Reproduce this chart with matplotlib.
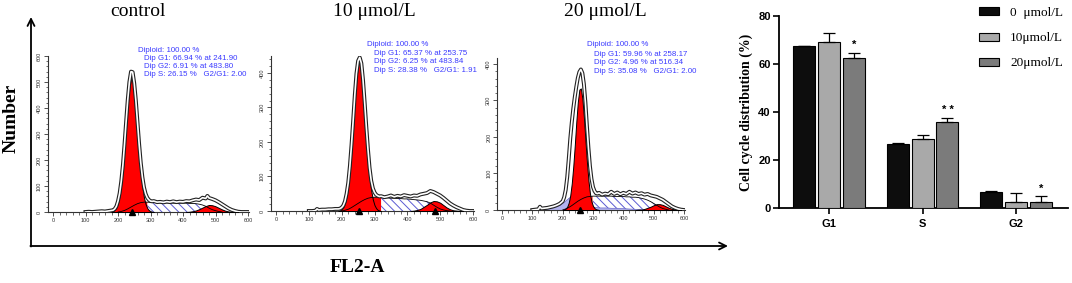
import numpy as np
import matplotlib.pyplot as plt
from matplotlib.ticker import MultipleLocator
from matplotlib.patches import Patch

plt.rcParams['hatch.linewidth'] = 0.7
plt.rcParams['font.family'] = ['Liberation Sans', 'DejaVu Sans']

W, H = 1072, 283

# ---------------- flow cytometry histograms ----------------
# control
ctrl_x = [100, 110, 120, 130, 140, 150, 160, 170,
          180, 185, 190, 195, 200, 205, 210, 215, 220, 225, 230, 235, 240, 245, 250, 255, 260, 265, 270,
          275, 280, 285, 290, 295, 300, 305, 310,
          320, 330, 340, 350, 360, 370, 380, 390, 400, 410, 420, 430, 440, 450, 460, 470, 475,
          480, 490, 500, 510, 520, 530, 540, 550, 560, 570, 580, 590, 600]
ctrl_n = [0, 1, 0, 1, 2, 3, 2, 4,
          6, 7, 12, 22, 42, 72, 118, 180, 260, 348, 432, 500, 540, 538, 495, 428, 345, 262, 190,
          135, 95, 70, 55, 47, 42, 41, 42,
          38, 39, 37, 40, 38, 41, 38, 40, 39, 42, 41, 45, 48, 46, 55, 52, 62,
          54, 50, 45, 38, 30, 22, 14, 8, 4, 1, 0, 0, 0]
ctrl_g1_x = [180, 185, 190, 195, 200, 205, 210, 215, 220, 225, 230, 235, 240, 245, 250, 255, 260,
             265, 270, 275, 280, 285, 290, 295, 300, 305, 310]
ctrl_g1 = [1, 3, 8, 17, 34, 62, 106, 167, 244, 330, 412, 477, 512, 508, 466, 397, 312,
           228, 154, 96, 55, 30, 15, 7, 3, 1, 0]
ctrl_s_x = [200, 210, 220, 230, 240, 250, 260, 270, 280, 290, 300, 310, 320, 330, 340, 350, 360,
            370, 380, 390, 400, 410, 420, 430, 440, 450, 460, 470, 480, 490, 500, 510, 520]
ctrl_s = [0, 2, 6, 12, 19, 26, 32, 36, 38, 38, 37, 37, 36, 36, 35, 35, 35,
          34, 34, 34, 34, 34, 33, 33, 32, 30, 27, 22, 15, 9, 5, 2, 0]
ctrl_g2_x = [410, 420, 430, 440, 450, 460, 470, 480, 490, 500, 510, 520, 530, 540, 550, 560, 570]
ctrl_g2 = [0, 1, 3, 6, 11, 17, 23, 27, 26, 22, 16, 10, 5, 2, 1, 0, 0]
ctrl_marks = [241.90]
ctrl_info = ['Diploid: 100.00 %', 'Dip G1: 66.94 % at 241.90',
             'Dip G2: 6.91 % at 483.80', 'Dip S: 26.15 %   G2/G1: 2.00']

# 10 umol/L
d10_x = [100, 110, 120, 125, 130, 140, 150, 160, 170, 180,
         190, 195, 200, 205, 210, 215, 220, 225, 230, 235, 240, 245, 250, 255, 260, 265, 270, 275,
         280, 285, 290, 295, 300, 305, 310, 315, 320,
         330, 340, 350, 360, 370, 380, 390, 400, 410, 420, 430, 440, 450, 460, 470, 480, 490, 500,
         510, 520, 530, 540, 550, 560, 570, 580, 590, 600]
d10_n = [0, 0, 1, 6, 3, 4, 4, 5, 5, 6,
         6, 7, 10, 16, 28, 50, 82, 130, 192, 262, 336, 398, 435, 445, 428, 380, 315, 245,
         180, 125, 88, 66, 54, 47, 44, 42, 43,
         40, 42, 45, 41, 44, 42, 46, 44, 42, 45, 44, 48, 50, 52, 58, 55, 50, 45,
         38, 30, 22, 16, 11, 7, 3, 1, 0, 0]
d10_g1_x = [190, 195, 200, 205, 210, 215, 220, 225, 230, 235, 240, 245, 250, 255, 260, 265, 270,
            275, 280, 285, 290, 295, 300, 305, 310, 315, 320]
d10_g1 = [1, 2, 5, 11, 22, 42, 73, 119, 179, 249, 322, 384, 424, 434, 411, 361, 293,
          220, 153, 99, 59, 33, 17, 8, 3, 1, 0]
d10_s_x = [200, 210, 220, 230, 240, 250, 260, 270, 280, 290, 300, 310, 320, 330, 340, 350, 360,
           370, 380, 390, 400, 410, 420, 430, 440, 450, 460, 470, 480, 490, 500, 510, 520, 530]
d10_s = [0, 2, 5, 10, 16, 22, 28, 33, 37, 39, 40, 40, 39, 38, 38, 37, 37,
         36, 36, 35, 35, 34, 33, 32, 31, 29, 27, 23, 17, 11, 6, 3, 1, 0]
d10_g2_x = [410, 420, 430, 440, 450, 460, 470, 480, 490, 500, 510, 520, 530, 540, 550, 560, 570]
d10_g2 = [0, 1, 3, 6, 12, 18, 25, 29, 28, 24, 17, 10, 5, 2, 1, 0, 0]
d10_marks = [253.75, 483.84]
d10_info = ['Diploid: 100.00 %', 'Dip G1: 65.37 % at 253.75',
            'Dip G2: 6.25 % at 483.84', 'Dip S: 28.38 %   G2/G1: 1.91']

# 20 umol/L
d20_x = [100, 110, 120, 125, 130, 140, 150, 160, 170, 180, 190,
         200, 205, 210, 215, 220, 225, 230, 235, 240, 245, 250, 255, 260, 265, 270, 275, 280, 285,
         290, 295, 300, 305, 310, 315, 320,
         330, 340, 350, 360, 370, 380, 390, 400, 410, 420, 430, 440, 450, 460, 470, 480, 490, 500,
         510, 520, 530, 540, 550, 560, 570, 580, 590, 600]
d20_n = [0, 1, 2, 9, 4, 5, 6, 8, 10, 13, 17,
         24, 35, 55, 90, 140, 195, 240, 278, 310, 338, 362, 378, 385, 375, 345, 295, 230, 170,
         120, 85, 63, 52, 46, 45, 47,
         42, 45, 43, 50, 44, 48, 43, 47, 44, 50, 45, 48, 44, 46, 42, 44, 40, 38,
         36, 32, 28, 22, 16, 10, 6, 3, 1, 0]
d20_g1_x = [200, 205, 210, 215, 220, 225, 230, 235, 240, 245, 250, 255, 260, 265, 270, 275, 280,
            285, 290, 295, 300, 305, 310, 315, 320]
d20_g1 = [0, 1, 4, 9, 20, 40, 73, 120, 178, 242, 296, 330, 333, 305, 254, 191, 131,
          81, 45, 23, 11, 5, 2, 1, 0]
d20_s_x = [200, 210, 220, 230, 240, 250, 260, 270, 280, 290, 300, 310, 320, 330, 340, 350, 360,
           370, 380, 390, 400, 410, 420, 430, 440, 450, 460, 470, 480, 490, 500, 510, 520, 530, 540, 550]
d20_s = [0, 3, 7, 12, 18, 24, 29, 33, 36, 37, 38, 38, 38, 38, 38, 38, 38,
         37, 37, 37, 37, 36, 36, 35, 35, 34, 32, 30, 27, 23, 18, 13, 8, 4, 2, 0]
d20_g2_x = [440, 450, 460, 470, 480, 490, 500, 510, 520, 530, 540, 550, 560, 570, 580, 590]
d20_g2 = [0, 1, 1, 3, 6, 9, 13, 16, 16, 14, 10, 6, 3, 2, 1, 0]
d20_debris_x = [115, 120, 125, 130, 140, 150, 160, 170, 180, 190, 200, 210, 220, 230, 240, 250, 260,
                270, 280, 290, 300, 310, 320, 340, 360, 380, 400, 420, 440, 460, 480]
d20_debris = [0, 3, 9, 4, 4, 5, 6, 8, 11, 15, 20, 27, 34, 39, 40, 38, 33,
              26, 18, 12, 9, 8, 7, 7, 6, 6, 5, 4, 3, 2, 0]
d20_marks = [258.17]
d20_info = ['Diploid: 100.00 %', 'Dip G1: 59.96 % at 258.17',
            'Dip G2: 4.96 % at 516.34', 'Dip S: 35.08 %   G2/G1: 2.00']

panel_titles = ['control', '10 μmol/L', '20 μmol/L']

# ---------------- bar chart ----------------
phases = ['G1', 'S', 'G2']
dose_labels = ['0  μmol/L', '10μmol/L', '20μmol/L']
mean_0 = [67.3, 26.7, 6.7]
mean_10 = [69.2, 28.9, 2.6]
mean_20 = [62.5, 35.7, 2.4]
sd_0 = [0.3, 0.3, 0.5]
sd_10 = [3.7, 1.4, 3.5]
sd_20 = [2.1, 1.8, 2.5]
signif_20 = ['*', '* *', '*']

RED = '#ff0000'
BLUE_TXT = '#3a3aff'


def px_box(x0, x1, y_bottom, y_top):
    # pixel box -> figure fraction [left, bottom, width, height]
    return [x0 / W, 1 - y_bottom / H, (x1 - x0) / W, (y_bottom - y_top) / H]


def ftext(x, y, s, **kw):
    # text placed in figure pixels (origin top-left)
    return fig.text(x / W, 1 - y / H, s, **kw)


def draw_hist(ax, x, n, g1x, g1, sx, s, s_red_end, g2x, g2, marks, ytop,
              debris_x=None, debris=None, hump_alpha=1.0):
    sx = np.array(sx)
    s = np.array(s)
    ax.patch.set_alpha(0)
    ax.fill_between(sx, 0, s, where=sx >= s_red_end, facecolor='white',
                    edgecolor='#5a5ad2', hatch='\\\\\\\\', linewidth=0, zorder=1)
    if debris_x is not None:
        ax.fill_between(debris_x, 0, debris, facecolor='#b3b3ee', edgecolor='#6a6ac8',
                        linewidth=0.5, zorder=2)
    ax.fill_between(sx, 0, s, where=sx <= s_red_end, facecolor=RED, alpha=hump_alpha,
                    linewidth=0, zorder=3)
    ax.fill_between(g1x, 0, g1, facecolor=RED, edgecolor='black', linewidth=0.7, zorder=4)
    ax.fill_between(g2x, 0, g2, facecolor=RED, edgecolor='black', linewidth=0.7, zorder=4)
    ax.plot(sx, s, color='black', lw=0.6, zorder=5)
    # data histogram drawn as a hollow line
    ax.plot(x, n, color='#222222', lw=2.8, zorder=6, solid_joinstyle='round')
    ax.plot(x, n, color='white', lw=1.2, zorder=7, solid_joinstyle='round')
    for m in marks:
        ax.plot(m, 0, marker='^', color='black', ms=4.5, clip_on=False, zorder=8)

    ax.set_xlim(-15, 602)
    ax.set_ylim(0, ytop)
    ax.xaxis.set_major_locator(MultipleLocator(100))
    ax.xaxis.set_minor_locator(MultipleLocator(20))
    ax.yaxis.set_major_locator(MultipleLocator(100))
    ax.yaxis.set_minor_locator(MultipleLocator(20))
    ax.tick_params(which='major', length=3, width=0.6, labelsize=4, pad=1.5,
                   colors='#333333')
    ax.tick_params(which='minor', length=1.8, width=0.5, colors='#333333')
    for lbl in ax.get_yticklabels():
        lbl.set_rotation(90)
        lbl.set_va('center')
    for sp in ['top', 'right']:
        ax.spines[sp].set_visible(False)
    for sp in ['left', 'bottom']:
        ax.spines[sp].set_linewidth(0.8)
        ax.spines[sp].set_color('#333333')


fig = plt.figure(figsize=(W / 100, H / 100), dpi=100)

# background axes in pixel units, for the outer frame with arrows
bg = fig.add_axes([0, 0, 1, 1], zorder=-1)
bg.set_xlim(0, W)
bg.set_ylim(H, 0)
bg.axis('off')
bg.annotate('', xy=(31, 17), xytext=(31, 246.5),
            arrowprops=dict(arrowstyle='->,head_length=0.5,head_width=0.25', lw=1.3, color='black',
                            shrinkA=0, shrinkB=0))
bg.annotate('', xy=(728, 246), xytext=(30.4, 246),
            arrowprops=dict(arrowstyle='->,head_length=0.5,head_width=0.25', lw=1.3, color='black',
                            shrinkA=0, shrinkB=0))
ftext(11, 118, 'Number', rotation=90, ha='center', va='center', fontsize=14,
      fontweight='bold', family='Liberation Serif')
ftext(357, 268, 'FL2-A', ha='center', va='center', fontsize=14,
      fontweight='bold', family='Liberation Serif')

# histogram panels: pixel x of channel 0 and 600, pixel y of count 0 and axis top
panels = [
    dict(px=(53, 248), py=(212, 56), ytop=600,
         data=(ctrl_x, ctrl_n, ctrl_g1_x, ctrl_g1, ctrl_s_x, ctrl_s, 290, ctrl_g2_x, ctrl_g2, ctrl_marks),
         info=ctrl_info, info_pos=(138, 144, [50.7, 58.3, 66.0, 74.3]), title_x=138),
    dict(px=(276, 473), py=(211, 55.7), ytop=450,
         data=(d10_x, d10_n, d10_g1_x, d10_g1, d10_s_x, d10_s, 320, d10_g2_x, d10_g2, d10_marks),
         info=d10_info, info_pos=(367, 374, [45, 53.3, 61.7, 70]), title_x=374),
    dict(px=(502, 684), py=(210, 58.5), ytop=415,
         data=(d20_x, d20_n, d20_g1_x, d20_g1, d20_s_x, d20_s, 300, d20_g2_x, d20_g2, d20_marks),
         info=d20_info, info_pos=(587, 594, [45, 54, 62.7, 71.7]), title_x=605),
]

for i, p in enumerate(panels):
    a, b = p['px']
    sxp = (b - a) / 600
    x0 = a - 15 * sxp
    x1 = b + 2 * sxp
    ax = fig.add_axes(px_box(x0, x1, p['py'][0], p['py'][1]))
    if i == 2:
        draw_hist(ax, *p['data'], p['ytop'], debris_x=d20_debris_x, debris=d20_debris, hump_alpha=0.5)
    else:
        draw_hist(ax, *p['data'], p['ytop'])
    xa, xb, ys = p['info_pos']
    for j, (line, yy) in enumerate(zip(p['info'], ys)):
        ftext(xa if j == 0 else xb, yy, line, color=BLUE_TXT, fontsize=5.7,
              ha='left', va='center', family='Liberation Sans', zorder=10)
    ftext(p['title_x'], 11, panel_titles[i], ha='center', va='center', fontsize=14,
          family='Liberation Serif')

# bar chart
bx = fig.add_axes(px_box(779, 1068, 208, 16))
pos = np.arange(len(phases))
bw = 0.235
step = 0.267
bar_colors = ['#0d0d0d', '#a9a9a9', '#7b7b7b']
means = [mean_0, mean_10, mean_20]
sds = [sd_0, sd_10, sd_20]
handles = []
for k in range(3):
    xs = pos + (k - 1) * step
    bx.bar(xs, means[k], width=bw, color=bar_colors[k], edgecolor='black', linewidth=0.8,
           yerr=[np.zeros(3), sds[k]], capsize=4.5,
           error_kw=dict(elinewidth=0.9, capthick=0.9, ecolor='black'), zorder=3)
    handles.append(Patch(facecolor=bar_colors[k], edgecolor='black', linewidth=0.8))
for j in range(3):
    top = mean_20[j] + sd_20[j]
    bx.text(pos[j] + step, top + 1.2, signif_20[j], ha='center', va='bottom', fontsize=8,
            fontweight='bold')

bx.set_xlim(-0.535, 2.556)
bx.set_ylim(0, 80)
bx.set_yticks([0, 20, 40, 60, 80])
bx.set_xticks(pos)
bx.set_xticklabels(phases)
bx.tick_params(axis='both', length=4, width=1.2, labelsize=8)
bx.tick_params(axis='x', pad=4)
bx.tick_params(axis='y', pad=2)
for lbl in bx.get_xticklabels() + bx.get_yticklabels():
    lbl.set_fontweight('bold')
for sp in ['top', 'right']:
    bx.spines[sp].set_visible(False)
for sp in ['left', 'bottom']:
    bx.spines[sp].set_linewidth(1.3)
bx.set_ylabel('Cell cycle distribution (%)', fontsize=10, fontweight='bold',
              family='Liberation Serif', labelpad=4)
bx.legend(handles, dose_labels, loc='upper left', bbox_to_anchor=(979 / W, 1 - 7 / H),
          bbox_transform=fig.transFigure, frameon=False,
          prop=dict(family='Liberation Serif', size=9.5),
          handlelength=1.55, handleheight=0.55, labelspacing=1.0, handletextpad=0.8,
          borderaxespad=0, borderpad=0)

fig.savefig('out.png', dpi=100)
